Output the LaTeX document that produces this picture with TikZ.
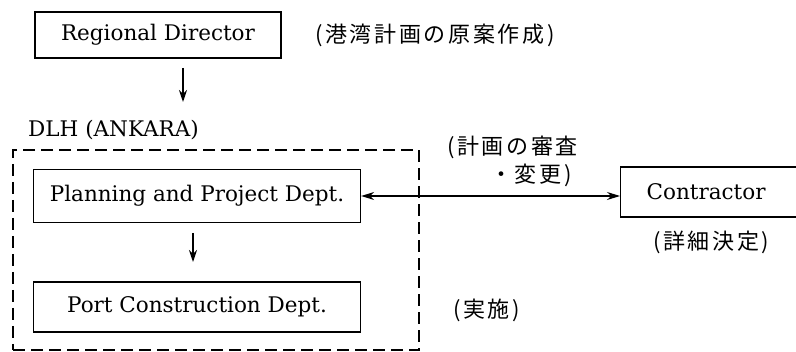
\documentclass[tikz,border=0pt]{standalone}
\usepackage{fontspec}
\setmainfont{DejaVu Serif}
\newfontfamily\jp[LetterSpace=12]{Noto Sans CJK JP}
\usetikzlibrary{arrows.meta}
\begin{document}
\begin{tikzpicture}[x=1pt,y=-1pt,
  box/.style={draw, line width=1.3pt, inner sep=0pt, font=\fontsize{21.5}{26}\selectfont},
  lbl/.style={inner sep=0pt, font=\fontsize{21.5}{26}\selectfont},
  jlbl/.style={inner sep=0pt, font=\jp\fontsize{22}{26}\selectfont},
  arr/.style={-{Stealth[length=12pt,width=8pt]}, line width=1.2pt},
  dbl/.style={{Stealth[length=13pt,width=8pt]}-{Stealth[length=13pt,width=8pt]}, line width=1.2pt},
  dashbox/.style={draw, line width=1.5pt, dash pattern=on 12pt off 6pt}]
\useasboundingbox (0,0) rectangle (796,352);
\node[box, minimum width=246pt, minimum height=46pt] (RD) at (158,35) {Regional Director};
\node[jlbl, anchor=west] (J1) at (315,35) {(港湾計画の原案作成)};
\coordinate (a1) at (183,68);
\coordinate (a1e) at (183,102);
\draw[arr] (a1) -- (a1e);
\node[lbl, anchor=west] (DLH) at (28,130) {DLH (ANKARA)};
\node[dashbox, minimum width=406pt, minimum height=200pt] (DB) at (216,250) {};
\node[box, minimum width=327pt, minimum height=53pt] (PP) at (197,196) {Planning and Project Dept.};
\node[box, minimum width=327pt, minimum height=50pt] (PC) at (197,307) {Port Construction Dept.};
\coordinate (a2) at (193,233);
\coordinate (a2e) at (193,262);
\draw[arr] (a2) -- (a2e);
\node[box, anchor=west, inner xsep=26pt, text width=150pt, align=left, minimum height=50pt] (C) at (620,192) {Contractor};
\draw[dbl] (PP.east) -- (PP.east -| C.west);
\node[jlbl, anchor=west] (J2) at (447,147) {(計画の審査};
\node[jlbl, anchor=west] (J3) at (490,175) {・変更)};
\node[jlbl, anchor=west] (J4) at (653,242) {(詳細決定)};
\node[jlbl, anchor=west] (J5) at (453,310) {(実施)};
\end{tikzpicture}
\end{document}
